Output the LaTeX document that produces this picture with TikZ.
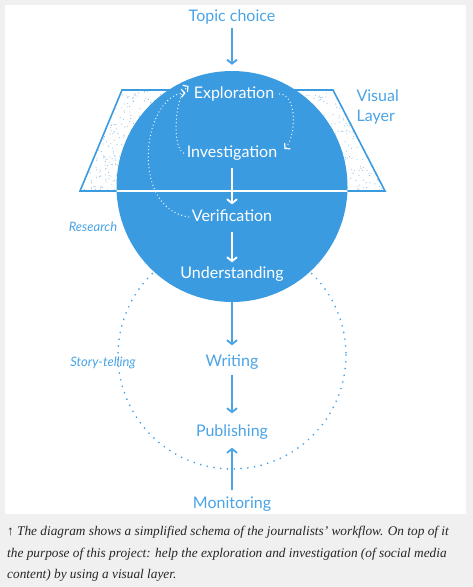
\documentclass[tikz,border=0pt]{standalone}
\usepackage{fontspec}
\setmainfont{Lato}
\newfontfamily\capfont{Liberation Serif}
\usetikzlibrary{arrows.meta}
\definecolor{flowblue}{HTML}{3B9BE1}
\definecolor{inkblue}{HTML}{4BA4E6}
\definecolor{speck}{HTML}{8FBDE3}
\definecolor{pagegray}{HTML}{F0F0F0}
\tikzset{
  stage/.style={font=\fontsize{16}{18}\selectfont, text height=12pt, text depth=3pt, inner sep=2pt},
  inside/.style={stage, text=white},
  outside/.style={stage, text=inkblue},
  side note/.style={font=\itshape\fontsize{13}{15}\selectfont, text=inkblue, inner sep=1pt},
  flow/.style={line width=1.8pt, -{Straight Barb[length=4pt,width=10pt]}},
  loop/.style={white, line width=1.3pt, dash pattern=on 0pt off 3.6pt, line cap=round,
    -{Straight Barb[length=3.5pt,width=8pt,line width=1.2pt]}}
}
\begin{document}
\begin{tikzpicture}[x=1pt,y=-1pt]
  \fill[pagegray] (0,0) rectangle (473,587);
  \fill[white] (5,5) rectangle (466,514);
  \useasboundingbox (0,0) rectangle (473,587);
  % the visual layer
  \begin{scope}
    \clip (122,90) -- (333,90) -- (385,191) -- (80,191) -- cycle;
    \pgfmathsetseed{42}
    \foreach \i in {1,...,1300} {
      \pgfmathsetmacro{\sx}{80+305*rnd}
      \pgfmathsetmacro{\sy}{90+101*rnd}
      \fill[speck] (\sx,\sy) circle (0.55);
    }
  \end{scope}
  \draw[flowblue, line width=1.6pt] (122,90) -- (333,90) -- (385,191) -- (80,191) -- cycle;
  % story-telling ring
  \draw[inkblue, line width=1.9pt, dash pattern=on 0pt off 6.8pt, line cap=round] (232,355) circle (114);
  \node[circle, fill=flowblue, minimum size=231pt, inner sep=0pt] (sphere) at (232,186.5) {};
  \begin{scope}
    \clip (232,186.5) circle (115.5);
    \draw[white, line width=1.6pt] (80,191) -- (385,191);
  \end{scope}
  \node[outside] (topic) at (232,17) {Topic choice};
  \node[inside] (explore) at (234,94) {Exploration};
  \node[inside] (investigate) at (232,153) {Investigation};
  \node[inside] (verify) at (232,217) {Verification};
  \node[inside] (understand) at (232,274) {Understanding};
  \node[outside] (writing) at (232,362) {Writing};
  \node[outside] (publish) at (232,432) {Publishing};
  \node[outside] (monitor) at (232,504) {Monitoring};
  \node[anchor=west, align=left, text=inkblue, font=\fontsize{16}{20}\selectfont] (visual) at (353,107) {Visual\\Layer};
  \node[side note] (research) at (93,227) {Research};
  \node[side note] (story) at (103,363) {Story-telling};
  % main flow
  \draw[flow, inkblue, shorten <=1.5pt, shorten >=6pt] (topic) -- (sphere.north);
  \draw[flow, white, shorten <=5pt, shorten >=3pt] (investigate) -- (verify);
  \draw[flow, white, shorten <=5pt, shorten >=2pt] (verify) -- (understand);
  \draw[flow, inkblue, shorten >=7pt] (sphere.south) -- (writing);
  \draw[flow, inkblue, shorten <=3pt, shorten >=9pt] (writing) -- (publish);
  \draw[flow, inkblue, shorten <=4pt, shorten >=6pt] (monitor) -- (publish);
  % research loops
  \draw[loop] ([xshift=3pt]explore.east) .. controls +(18,0) and +(12,-12) .. ([shift={(5,-4)}]investigate.east);
  \draw[loop] ([xshift=-1pt]investigate.west) .. controls +(-12,-5) and +(-14,10) .. ([shift={(-3,-8)}]explore.west);
  \draw[loop] ([xshift=-1pt]verify.west) .. controls +(-60,-9) and +(-43,2) .. ([shift={(-6,-1)}]explore.west);
  % caption
  \node[anchor=north west, align=left, inner sep=0pt, text=black!85,
    font=\capfont\itshape\fontsize{13.3}{21.5}\selectfont] (caption) at (7,526)
    {↑ The diagram shows a simplified schema of the journalists’ workflow. On top of it\\
     the purpose of this project: help the exploration and investigation (of social media\\
     content) by using a visual layer.};
\end{tikzpicture}
\end{document}
